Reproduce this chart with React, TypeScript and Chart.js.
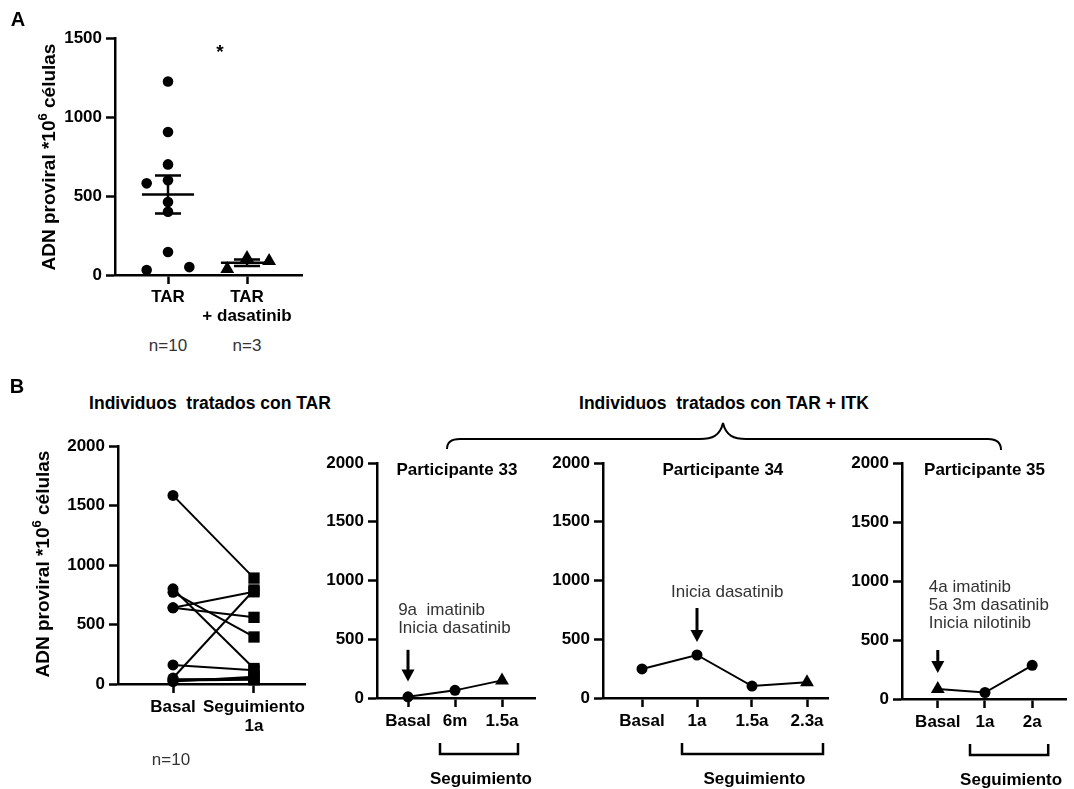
import React, { useEffect, useRef } from 'react';
import { Chart, registerables } from 'chart.js';

Chart.register(...registerables);

const FONT = "'Liberation Sans', Arial, Helvetica, sans-serif";
Chart.defaults.font.family = FONT;

// ---------------- Panel A data ----------------
const catsA: string[][] = [['TAR'], ['TAR', '+ dasatinib']];
const countsA = ['n=10', 'n=3'];
const tarValues = [1225, 905, 700, 600, 580, 462, 400, 146, 32, 50];
const tarJitter = [0, 0, 0, 0, -0.27, 0, 0, 0, -0.27, 0.27];
const dasValues = [38, 107, 89];
const dasJitter = [-0.25, 0, 0.28];
const ticksA = [0, 500, 1000, 1500];

// ---------------- Panel B (left) data ----------------
const catsBL: string[][] = [['Basal'], ['Seguimiento', '1a']];
const basalValues = [1585, 800, 770, 640, 640, 160, 50, 40, 30, 20];
const followValues = [890, 130, 395, 775, 560, 115, 790, 45, 35, 60];
const countBL = 'n=10';
const ticksB = [0, 500, 1000, 1500, 2000];

// ---------------- Participants ----------------
const p33Cats = ['Basal', '6m', '1.5a'];
const p33Values = [10, 65, 150];
const p33Markers = ['circle', 'circle', 'triangle'];
const p34Cats = ['Basal', '1a', '1.5a', '2.3a'];
const p34Values = [247, 366, 102, 135];
const p34Markers = ['circle', 'circle', 'circle', 'triangle'];
const p35Cats = ['Basal', '1a', '2a'];
const p35Values = [85, 55, 285];
const p35Markers = ['triangle', 'circle', 'circle'];

const p33Note = ['9a  imatinib', 'Inicia dasatinib'];
const p34Note = ['Inicia dasatinib'];
const p35Note = ['4a imatinib', '5a 3m dasatinib', 'Inicia nilotinib'];

// ---------------- Layout (pixel boxes) ----------------
type Layout = { left: number; top: number; width: number; height: number; yAxisX: number; plotTop: number; axisY: number; firstX: number; spacing: number; xEnd: number };
const LAYOUT_A: Layout = { left: 0, top: 0, width: 320, height: 330, yAxisX: 115, plotTop: 38, axisY: 275, firstX: 168, spacing: 79, xEnd: 302 };
const LAYOUT_BL: Layout = { left: 0, top: 425, width: 315, height: 364, yAxisX: 118, plotTop: 446, axisY: 684, firstX: 173, spacing: 81, xEnd: 305 };
const LAYOUT_P33: Layout = { left: 315, top: 445, width: 230, height: 344, yAxisX: 377, plotTop: 463, axisY: 698, firstX: 408, spacing: 47, xEnd: 535 };
const LAYOUT_P34: Layout = { left: 545, top: 445, width: 295, height: 344, yAxisX: 603, plotTop: 463, axisY: 698, firstX: 642, spacing: 55, xEnd: 828 };
const LAYOUT_P35: Layout = { left: 840, top: 445, width: 234, height: 344, yAxisX: 902, plotTop: 463, axisY: 699, firstX: 938, spacing: 47.5, xEnd: 1067 };

const mean = (a: number[]) => a.reduce((s, v) => s + v, 0) / a.length;
const sem = (a: number[]) => {
  const m = mean(a);
  const v = a.reduce((s, x) => s + (x - m) * (x - m), 0) / (a.length - 1);
  return Math.sqrt(v) / Math.sqrt(a.length);
};

const tickFont = { family: FONT, size: 17, weight: 'bold' as const, lineHeight: 1.12 };

function drawYTitle(ctx: CanvasRenderingContext2D, cx: number, cy: number) {
  const main = 'ADN proviral *10';
  const sup = '6';
  const rest = ' células';
  ctx.save();
  ctx.translate(cx, cy);
  ctx.rotate(-Math.PI / 2);
  ctx.fillStyle = '#000';
  ctx.textBaseline = 'middle';
  ctx.textAlign = 'left';
  ctx.font = `bold 19px ${FONT}`;
  const w1 = ctx.measureText(main).width;
  const w3 = ctx.measureText(rest).width;
  ctx.font = `bold 13px ${FONT}`;
  const w2 = ctx.measureText(sup).width;
  let x = -(w1 + w2 + w3) / 2;
  ctx.font = `bold 19px ${FONT}`;
  ctx.fillText(main, x, 0);
  x += w1;
  ctx.font = `bold 13px ${FONT}`;
  ctx.fillText(sup, x, -7);
  x += w2;
  ctx.font = `bold 19px ${FONT}`;
  ctx.fillText(rest, x, 0);
  ctx.restore();
}

function baseOptions(L: Layout, yMax: number, yTicks: number[], xLabels: (string | string[])[], xPad: number): any {
  const n = xLabels.length;
  const xMin = -(L.firstX - L.yAxisX) / L.spacing;
  const lastX = L.firstX + (n - 1) * L.spacing;
  const xMax = n - 1 + (L.xEnd - lastX) / L.spacing;
  return {
    responsive: false,
    animation: false,
    events: [],
    layout: { padding: { left: 0, top: L.plotTop - L.top, right: L.left + L.width - L.xEnd, bottom: 0 } },
    plugins: { legend: { display: false }, tooltip: { enabled: false }, title: { display: false } },
    scales: {
      x: {
        type: 'linear',
        min: xMin,
        max: xMax,
        afterBuildTicks: (s: any) => { s.ticks = xLabels.map((_, i) => ({ value: i })); },
        afterFit: (s: any) => { s.height = L.top + L.height - L.axisY; },
        ticks: { callback: (v: number) => xLabels[Math.round(v)] ?? '', font: tickFont, color: '#000', padding: xPad, maxRotation: 0, minRotation: 0, autoSkip: false },
        grid: { display: true, drawOnChartArea: false, drawTicks: true, tickLength: 9, tickWidth: 2.5, tickColor: '#000' },
        border: { display: true, color: '#000', width: 2.5 },
      },
      y: {
        type: 'linear',
        min: 0,
        max: yMax,
        afterBuildTicks: (s: any) => { s.ticks = yTicks.map((v) => ({ value: v })); },
        afterFit: (s: any) => { s.width = L.yAxisX - L.left; },
        ticks: { callback: (v: number) => String(v), font: tickFont, color: '#000', padding: 4, autoSkip: false },
        grid: { display: true, drawOnChartArea: false, drawTicks: true, tickLength: 9, tickWidth: 2.5, tickColor: '#000' },
        border: { display: true, color: '#000', width: 2.5 },
      },
    },
  };
}

function ChartBox({ layout, make }: { layout: Layout; make: () => any }) {
  const ref = useRef<HTMLCanvasElement>(null);
  useEffect(() => {
    const chart = new Chart(ref.current as HTMLCanvasElement, make());
    return () => chart.destroy();
  }, []);
  return (
    <canvas
      ref={ref}
      width={layout.width}
      height={layout.height}
      style={{ position: 'absolute', left: layout.left, top: layout.top, width: layout.width, height: layout.height }}
    />
  );
}

// ---------------- Panel A ----------------
function makePanelA() {
  const opts = baseOptions(LAYOUT_A, 1500, ticksA, catsA, 4);
  return {
    type: 'scatter',
    data: {
      datasets: [
        { data: tarValues.map((v, i) => ({ x: 0 + tarJitter[i], y: v })), pointStyle: 'circle', pointRadius: 5.3, pointBorderWidth: 0, backgroundColor: '#000', borderColor: '#000', clip: false },
        { data: dasValues.map((v, i) => ({ x: 1 + dasJitter[i], y: v })), pointStyle: 'triangle', pointRadius: 8, pointBorderWidth: 0, backgroundColor: '#000', borderColor: '#000', clip: false },
      ],
    },
    options: opts,
    plugins: [
      {
        id: 'meanSem',
        afterDatasetsDraw(chart: any) {
          const { ctx, scales } = chart;
          const x = scales.x, y = scales.y;
          ctx.save();
          ctx.strokeStyle = '#000';
          ctx.lineWidth = 2.5;
          [tarValues, dasValues].forEach((vals, gi) => {
            const m = mean(vals), s = sem(vals);
            const xc = x.getPixelForValue(gi);
            const hw = x.getPixelForValue(gi + 0.33) - xc;
            const sw = x.getPixelForValue(gi + 0.165) - xc;
            const ym = y.getPixelForValue(m), yh = y.getPixelForValue(m + s), yl = y.getPixelForValue(m - s);
            ctx.beginPath();
            ctx.moveTo(xc - hw, ym); ctx.lineTo(xc + hw, ym);
            ctx.moveTo(xc - sw, yh); ctx.lineTo(xc + sw, yh);
            ctx.moveTo(xc - sw, yl); ctx.lineTo(xc + sw, yl);
            ctx.moveTo(xc, yh); ctx.lineTo(xc, yl);
            ctx.stroke();
          });
          ctx.restore();
        },
        afterDraw(chart: any) {
          drawYTitle(chart.ctx, 50 - LAYOUT_A.left, 157 - LAYOUT_A.top);
        },
      },
    ],
  };
}

// ---------------- Panel B left ----------------
function makePanelBL() {
  const opts = baseOptions(LAYOUT_BL, 2000, ticksB, catsBL, 5);
  return {
    type: 'scatter',
    data: {
      datasets: basalValues.map((b, i) => ({
        data: [{ x: 0, y: b }, { x: 1, y: followValues[i] }],
        showLine: true,
        borderColor: '#000',
        borderWidth: 2,
        backgroundColor: '#000',
        pointStyle: ['circle', 'rect'],
        pointRadius: [5.5, 8],
        pointBorderWidth: 0,
        clip: false,
      })),
    },
    options: opts,
    plugins: [
      {
        id: 'ytitle',
        afterDraw(chart: any) {
          drawYTitle(chart.ctx, 44 - LAYOUT_BL.left, 564 - LAYOUT_BL.top);
        },
      },
    ],
  };
}

// ---------------- Participants ----------------
type Annot = {
  title: string; titleAt: number;
  arrowAt: number; arrowFrom: number; arrowTo: number;
  note: string[]; noteAt: number; noteY: number; noteAlign: 'left' | 'center';
};

function makeParticipant(L: Layout, cats: string[], values: number[], markers: string[], a: Annot) {
  const opts = baseOptions(L, 2000, ticksB, cats, 5);
  return {
    type: 'scatter',
    data: {
      datasets: [
        {
          data: values.map((v, i) => ({ x: i, y: v })),
          showLine: true,
          borderColor: '#000',
          borderWidth: 2,
          backgroundColor: '#000',
          pointStyle: markers,
          pointRadius: markers.map((m) => (m === 'triangle' ? 8 : 5.5)),
          pointBorderWidth: 0,
          clip: false,
        },
      ],
    },
    options: opts,
    plugins: [
      {
        id: 'annot',
        afterDraw(chart: any) {
          const { ctx, chartArea, scales } = chart;
          const x = scales.x, y = scales.y;
          ctx.save();
          // title
          ctx.fillStyle = '#000';
          ctx.font = `bold 17px ${FONT}`;
          ctx.textAlign = 'center';
          ctx.textBaseline = 'middle';
          ctx.fillText(a.title, x.getPixelForValue(a.titleAt), chartArea.top + 7);
          // arrow
          const ax = x.getPixelForValue(a.arrowAt);
          const y0 = y.getPixelForValue(a.arrowFrom);
          const y1 = y.getPixelForValue(a.arrowTo);
          const head = 12;
          ctx.strokeStyle = '#000';
          ctx.lineWidth = 3;
          ctx.beginPath();
          ctx.moveTo(ax, y0);
          ctx.lineTo(ax, y1 - head + 1);
          ctx.stroke();
          ctx.beginPath();
          ctx.moveTo(ax - 6.5, y1 - head);
          ctx.lineTo(ax + 6.5, y1 - head);
          ctx.lineTo(ax, y1);
          ctx.closePath();
          ctx.fill();
          // note
          ctx.fillStyle = '#333';
          ctx.font = `17px ${FONT}`;
          ctx.textAlign = a.noteAlign;
          const ny = y.getPixelForValue(a.noteY);
          a.note.forEach((line, i) => ctx.fillText(line, x.getPixelForValue(a.noteAt), ny + i * 18));
          // follow-up bracket
          const bx0 = x.getPixelForValue(1) - 15;
          const bx1 = x.getPixelForValue(cats.length - 1) + 16;
          const by = chartArea.bottom + 56;
          ctx.lineWidth = 2.5;
          ctx.beginPath();
          ctx.moveTo(bx0, by - 11);
          ctx.lineTo(bx0, by);
          ctx.lineTo(bx1, by);
          ctx.lineTo(bx1, by - 11);
          ctx.stroke();
          ctx.fillStyle = '#000';
          ctx.font = `bold 17px ${FONT}`;
          ctx.textAlign = 'center';
          ctx.fillText('Seguimiento', (bx0 + bx1) / 2 + 2, chartArea.bottom + 81);
          ctx.restore();
        },
      },
    ],
  };
}

const annot33: Annot = { title: 'Participante 33', titleAt: 1.04, arrowAt: 0, arrowFrom: 410, arrowTo: 140, note: p33Note, noteAt: -0.21, noteY: 749, noteAlign: 'left' };
const annot34: Annot = { title: 'Participante 34', titleAt: 1.47, arrowAt: 1, arrowFrom: 766, arrowTo: 476, note: p34Note, noteAt: 1.55, noteY: 902, noteAlign: 'center' };
const annot35: Annot = { title: 'Participante 35', titleAt: 0.99, arrowAt: 0, arrowFrom: 415, arrowTo: 220, note: p35Note, noteAt: -0.19, noteY: 949, noteAlign: 'left' };

function Txt({ x, y, size, bold, color, children }: { x: number; y: number; size: number; bold?: boolean; color?: string; children: React.ReactNode }) {
  return (
    <div
      style={{
        position: 'absolute', left: x, top: y, transform: 'translate(-50%, -50%)',
        fontFamily: FONT, fontSize: size, fontWeight: bold ? 'bold' : 'normal',
        color: color || '#000', whiteSpace: 'pre', lineHeight: 1,
      }}
    >
      {children}
    </div>
  );
}

export default function App() {
  return (
    <div style={{ position: 'absolute', left: 0, top: 0, width: 1074, height: 789, background: '#fff', overflow: 'hidden' }}>
      <ChartBox layout={LAYOUT_A} make={makePanelA} />
      <ChartBox layout={LAYOUT_BL} make={makePanelBL} />
      <ChartBox layout={LAYOUT_P33} make={() => makeParticipant(LAYOUT_P33, p33Cats, p33Values, p33Markers, annot33)} />
      <ChartBox layout={LAYOUT_P34} make={() => makeParticipant(LAYOUT_P34, p34Cats, p34Values, p34Markers, annot34)} />
      <ChartBox layout={LAYOUT_P35} make={() => makeParticipant(LAYOUT_P35, p35Cats, p35Values, p35Markers, annot35)} />

      <Txt x={18} y={19} size={20} bold>A</Txt>
      <Txt x={220} y={51} size={19} bold>*</Txt>
      <Txt x={168} y={345} size={17} color="#333">{countsA[0]}</Txt>
      <Txt x={247} y={345} size={17} color="#333">{countsA[1]}</Txt>

      <Txt x={17} y={386} size={20} bold>B</Txt>
      <Txt x={210} y={404} size={17.5} bold>{'Individuos  tratados con TAR'}</Txt>
      <Txt x={724} y={404} size={17.5} bold>{'Individuos  tratados con TAR + ITK'}</Txt>
      <Txt x={171} y={759} size={17} color="#333">{countBL}</Txt>

      <svg width={1074} height={789} style={{ position: 'absolute', left: 0, top: 0, pointerEvents: 'none' }}>
        <path
          d="M 447 449 Q 447 439 460 439 L 700 439 C 712 439 720 436 723 423 C 726 436 734 439 746 439 L 988 439 Q 1001 439 1001 450"
          fill="none"
          stroke="#000"
          strokeWidth={2}
        />
      </svg>
    </div>
  );
}
